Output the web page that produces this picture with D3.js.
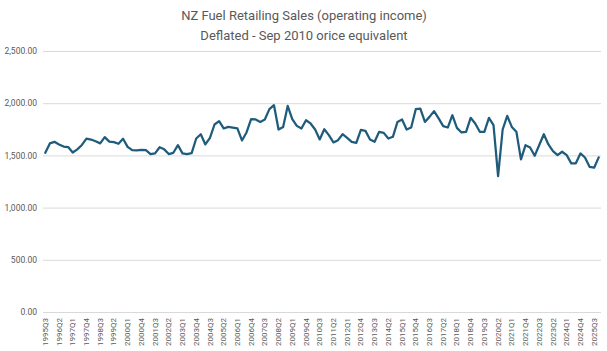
<!DOCTYPE html>
<html>
<head>
<meta charset="utf-8">
<script src="https://cdn.jsdelivr.net/npm/d3@7"></script>
<style>
    body { margin: 0; background: #fff; }
    text { font-family: Roboto, "Liberation Sans", sans-serif; }
</style>
</head>
<body>
<div id="chart-area"></div>
<script>

// quarters 1995Q3 .. 2025Q4
let quarters = [];
for (let y = 1995; y <= 2025; y++) {
    for (let q = 1; q <= 4; q++) {
        if (y === 1995 && q < 3) continue;
        quarters.push(y + "Q" + q);
    }
}

// deflated operating income
let sales = [
    1525, 1615, 1630, 1605, 1585, 1580, 1528, 1558, 1600, 1660,
    1652, 1635, 1615, 1675, 1632, 1627, 1611, 1659, 1582, 1550,
    1548, 1553, 1550, 1513, 1520, 1578, 1558, 1513, 1525, 1598,
    1519, 1512, 1522, 1662, 1703, 1605, 1668, 1796, 1828, 1758,
    1773, 1767, 1758, 1643, 1720, 1847, 1844, 1821, 1844, 1943,
    1981, 1748, 1773, 1974, 1847, 1783, 1758, 1837, 1806, 1748,
    1653, 1751, 1694, 1624, 1646, 1703, 1668, 1630, 1620, 1745,
    1735, 1653, 1630, 1726, 1716, 1662, 1678, 1821, 1844, 1748,
    1767, 1943, 1949, 1821, 1869, 1924, 1854, 1780, 1767, 1885,
    1764, 1720, 1726, 1860, 1806, 1726, 1726, 1860, 1790, 1302,
    1748, 1879, 1773, 1726, 1462, 1598, 1576, 1496, 1600, 1703,
    1605, 1541, 1503, 1535, 1503, 1424, 1424, 1519, 1480, 1391,
    1382, 1481
];

let yTicks = [0, 500, 1000, 1500, 2000, 2500];
let titleLines = ["NZ Fuel Retailing Sales (operating income)", "Deflated - Sep 2010 orice equivalent"];

class LineChart {

    constructor(parentElement, labels, values){
        this.parentElement = parentElement;
        this.labels = labels;
        this.values = values;
        this.initVis();
    }

    initVis(){
        let vis = this;

        vis.margin = {top: 51, right: 6, bottom: 39, left: 43};
        vis.width = 607 - vis.margin.left - vis.margin.right;
        vis.height = 351 - vis.margin.top - vis.margin.bottom;

        vis.root = d3.select("#" + vis.parentElement).append("svg")
            .attr("width", 607)
            .attr("height", 351);

        vis.svg = vis.root.append("g")
            .attr("transform", `translate(${vis.margin.left}, ${vis.margin.top})`);

        // title
        vis.root.append("text")
            .attr("text-anchor", "middle")
            .attr("font-size", 13)
            .attr("fill", "#595959")
            .selectAll("tspan")
            .data(titleLines)
            .join("tspan")
            .attr("x", 304)
            .attr("y", (d, i) => 20 + i * 19.5)
            .text(d => d);

        vis.x = d3.scaleBand()
            .domain(vis.labels)
            .range([0, vis.width]);

        vis.y = d3.scaleLinear()
            .domain([0, 2500])
            .range([vis.height, 0]);

        // gridlines + y labels
        vis.yAxis = d3.axisLeft(vis.y)
            .tickValues(yTicks)
            .tickSize(-vis.width)
            .tickPadding(6)
            .tickFormat(d3.format(",.2f"));

        vis.svg.append("g")
            .attr("class", "y-axis axis")
            .call(vis.yAxis)
            .call(g => g.select(".domain").remove())
            .call(g => g.selectAll("line").attr("stroke", "#d9d9d9").attr("stroke-width", 1))
            .call(g => g.selectAll("text").attr("fill", "#595959").attr("font-size", 8.5));

        // x labels, every third quarter
        vis.xAxis = d3.axisBottom(vis.x)
            .tickValues(vis.labels.filter((d, i) => i % 3 === 0))
            .tickSize(0)
            .tickPadding(0);

        vis.svg.append("g")
            .attr("class", "x-axis axis")
            .attr("transform", `translate(0, ${vis.height})`)
            .call(vis.xAxis)
            .call(g => g.select(".domain").remove())
            .call(g => g.selectAll("text")
                .attr("fill", "#595959")
                .attr("font-size", 8)
                .attr("text-anchor", "end")
                .attr("dy", "0.32em")
                .attr("transform", "translate(0, 6) rotate(-90)")
                .attr("x", 0)
                .attr("y", 0));

        vis.updateVis();
    }

    updateVis(){
        let vis = this;

        let data = vis.labels.map((d, i) => ({q: d, v: vis.values[i]}));

        vis.line = d3.line()
            .x(d => vis.x(d.q) + vis.x.bandwidth() / 2)
            .y(d => vis.y(d.v));

        vis.svg.append("path")
            .datum(data)
            .attr("fill", "none")
            .attr("stroke", "#1f5c7c")
            .attr("stroke-width", 2.25)
            .attr("stroke-linejoin", "round")
            .attr("stroke-linecap", "round")
            .attr("d", vis.line);
    }
}

let chart = new LineChart("chart-area", quarters, sales);

</script>
</body>
</html>
